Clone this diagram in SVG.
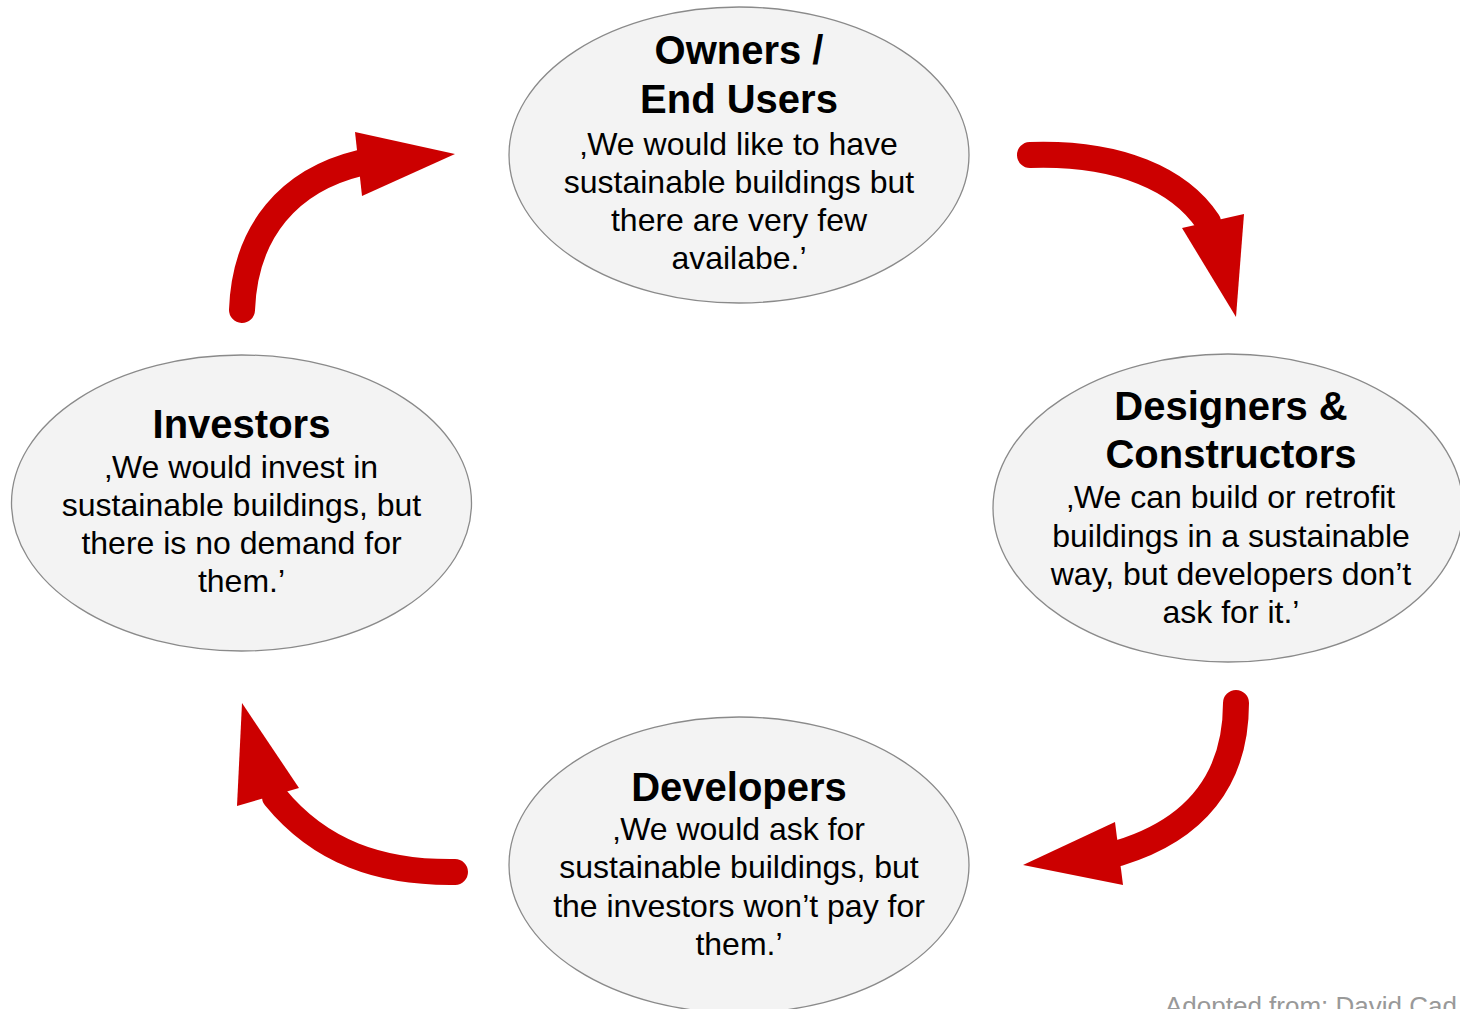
<svg xmlns="http://www.w3.org/2000/svg" width="1460" height="1009" viewBox="0 0 1460 1009">
<style>
.node{fill:#f3f3f3;stroke:#8a8a8a;stroke-width:1.3}
.t{font-family:"Liberation Sans",Arial,sans-serif;font-weight:bold;font-size:40px;fill:#000;text-anchor:middle}
.b{font-family:"Liberation Sans",Arial,sans-serif;font-size:32px;fill:#000;text-anchor:middle}
.arr{fill:none;stroke:#cc0000;stroke-width:26;stroke-linecap:round}
.head{fill:#cc0000}
.cap{font-family:"Liberation Sans",Arial,sans-serif;font-size:26px;fill:#999}
</style>
<rect width="1460" height="1009" fill="#fff"/>
<g id="connectors">
<path class="arr" d="M1030,155 C1120,152 1180,180 1208,222"/>
<polygon class="head" points="1182,228 1244,214 1236,317"/>
<path class="arr" d="M1236,703 C1236,780 1195,830 1119,853"/>
<polygon class="head" points="1115,822 1123,885 1023,865"/>
<path class="arr" d="M455,872 C380,873 320,852 275,797"/>
<polygon class="head" points="242,703 237,806 299,788"/>
<path class="arr" d="M242,310 C245,230 290,180 360,163"/>
<polygon class="head" points="355,132 362,196 455,154"/>
</g>
<g id="owners">
<ellipse class="node" cx="739" cy="155" rx="230" ry="148"/>
<text class="t" x="739" y="64">Owners /</text>
<text class="t" x="739" y="113">End Users</text>
<text class="b" x="739" y="155">‚We would like to have</text>
<text class="b" x="739" y="193">sustainable buildings but</text>
<text class="b" x="739" y="231">there are very few</text>
<text class="b" x="739" y="269">availabe.’</text>
</g>
<g id="designers">
<ellipse class="node" cx="1228" cy="508" rx="235" ry="154"/>
<text class="t" x="1231" y="420">Designers &amp;</text>
<text class="t" x="1231" y="468">Constructors</text>
<text class="b" x="1231" y="508">‚We can build or retrofit</text>
<text class="b" x="1231" y="547">buildings in a sustainable</text>
<text class="b" x="1231" y="585">way, but developers don’t</text>
<text class="b" x="1231" y="623">ask for it.’</text>
</g>
<g id="developers">
<ellipse class="node" cx="739" cy="865" rx="230" ry="148"/>
<text class="t" x="739" y="801">Developers</text>
<text class="b" x="739" y="840">‚We would ask for</text>
<text class="b" x="739" y="878">sustainable buildings, but</text>
<text class="b" x="739" y="917">the investors won’t pay for</text>
<text class="b" x="739" y="955">them.’</text>
</g>
<g id="investors">
<ellipse class="node" cx="241.5" cy="503" rx="230" ry="148"/>
<text class="t" x="241.5" y="438">Investors</text>
<text class="b" x="241.5" y="478">‚We would invest in</text>
<text class="b" x="241.5" y="516">sustainable buildings, but</text>
<text class="b" x="241.5" y="554">there is no demand for</text>
<text class="b" x="241.5" y="592">them.’</text>
</g>
<text class="cap" x="1165" y="1015">Adopted from: David Cad</text>
</svg>
